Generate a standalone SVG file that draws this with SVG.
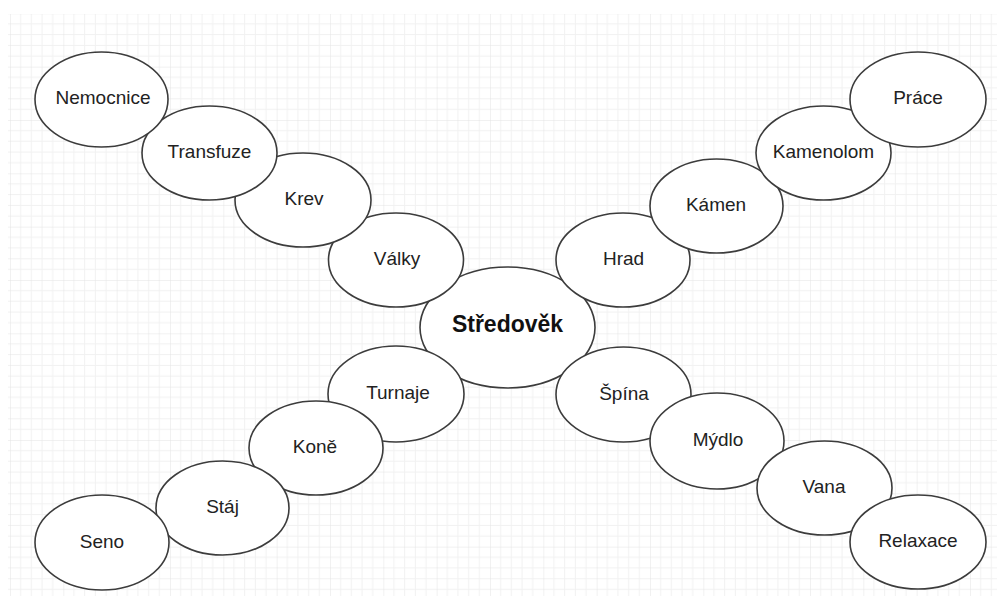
<svg xmlns="http://www.w3.org/2000/svg" width="997" height="596" viewBox="0 0 997 596">
  <defs>
    <!-- drafting grid: fine lines every 10.67 px, stronger lines every 53.33 px -->
    <pattern id="grid" patternUnits="userSpaceOnUse" x="10" y="13.33" width="53.333" height="53.333">
      <path d="M10.667 0V53.333M21.333 0V53.333M32 0V53.333M42.667 0V53.333M0 10.667H53.333M0 21.333H53.333M0 32H53.333M0 42.667H53.333" fill="none" stroke="#f1f1f1" stroke-width="1"/>
      <path d="M0 0V53.333M0 0H53.333" fill="none" stroke="#e3e3e3" stroke-width="1"/>
    </pattern>
    <style>
      .node ellipse { fill: #ffffff; stroke: #3c3c3c; stroke-width: 1.6; }
      .node text { font-family: "Liberation Sans", Arial, sans-serif; font-size: 19px; fill: #222222; text-anchor: middle; }
      #n-stredovek text { font-size: 23px; font-weight: bold; fill: #111111; }
    </style>
  </defs>

  <rect width="997" height="596" fill="#ffffff"/>
  <rect x="8" y="14" width="989" height="582" fill="url(#grid)"/>

  <!-- no explicit connectors: the bubbles touch each other -->
  <g id="connectors"/>

  <!-- central topic -->
  <g id="n-stredovek" class="node">
    <ellipse cx="507.5" cy="327.5" rx="87.5" ry="60.5"/>
    <text x="507.5" y="331.5">Středověk</text>
  </g>

  <!-- first ring -->
  <g id="n-valky" class="node">
    <ellipse cx="396" cy="260" rx="67.5" ry="47"/>
    <text x="397" y="265">Války</text>
  </g>
  <g id="n-hrad" class="node">
    <ellipse cx="623" cy="260" rx="67" ry="47"/>
    <text x="623.5" y="265">Hrad</text>
  </g>
  <g id="n-turnaje" class="node">
    <ellipse cx="396" cy="394" rx="68" ry="48"/>
    <text x="398" y="399">Turnaje</text>
  </g>
  <g id="n-spina" class="node">
    <ellipse cx="623.5" cy="394.5" rx="67.5" ry="47.5"/>
    <text x="624" y="399.5">Špína</text>
  </g>

  <!-- second ring -->
  <g id="n-krev" class="node">
    <ellipse cx="303" cy="200" rx="68" ry="47"/>
    <text x="304" y="205">Krev</text>
  </g>
  <g id="n-kamen" class="node">
    <ellipse cx="716.5" cy="206" rx="66.5" ry="47"/>
    <text x="716" y="211">Kámen</text>
  </g>
  <g id="n-kone" class="node">
    <ellipse cx="316" cy="448" rx="67" ry="47"/>
    <text x="315" y="453">Koně</text>
  </g>
  <g id="n-mydlo" class="node">
    <ellipse cx="717" cy="441" rx="67" ry="48"/>
    <text x="718" y="446">Mýdlo</text>
  </g>

  <!-- third ring -->
  <g id="n-transfuze" class="node">
    <ellipse cx="209.5" cy="153" rx="67.5" ry="47"/>
    <text x="209.5" y="157.5">Transfuze</text>
  </g>
  <g id="n-kamenolom" class="node">
    <ellipse cx="823.5" cy="153" rx="67.5" ry="47"/>
    <text x="823.5" y="157.5">Kamenolom</text>
  </g>
  <g id="n-staj" class="node">
    <ellipse cx="222.5" cy="508" rx="66.5" ry="47"/>
    <text x="222.5" y="513">Stáj</text>
  </g>
  <g id="n-vana" class="node">
    <ellipse cx="824.5" cy="488" rx="67.5" ry="47"/>
    <text x="824" y="493">Vana</text>
  </g>

  <!-- outer ring -->
  <g id="n-nemocnice" class="node">
    <ellipse cx="101.5" cy="99.5" rx="66.5" ry="47.5"/>
    <text x="103" y="104">Nemocnice</text>
  </g>
  <g id="n-prace" class="node">
    <ellipse cx="918" cy="99.5" rx="68" ry="47.5"/>
    <text x="918" y="104">Práce</text>
  </g>
  <g id="n-seno" class="node">
    <ellipse cx="102" cy="542.5" rx="67" ry="47.5"/>
    <text x="102" y="547.5">Seno</text>
  </g>
  <g id="n-relaxace" class="node">
    <ellipse cx="918" cy="542" rx="68" ry="47"/>
    <text x="918" y="547">Relaxace</text>
  </g>
</svg>
